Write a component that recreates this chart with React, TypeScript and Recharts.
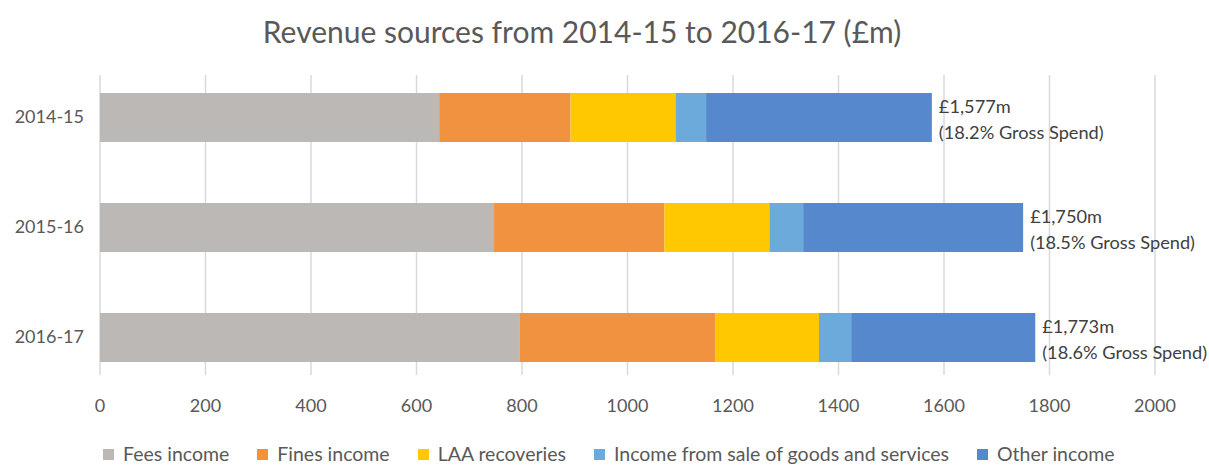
import { Bar, BarChart, CartesianGrid, LabelList, XAxis, YAxis } from "recharts"

const YEARS = ["2014-15", "2015-16", "2016-17"]
const FEES = [643, 747, 795]
const FINES = [249, 323, 372]
const LAA = [199, 199, 196]
const GOODS = [58, 64, 61]
const OTHER = [428, 417, 349]
const TOTALS = [1577, 1750, 1773]
const GROSS_PCT = [18.2, 18.5, 18.6]
const X_TICKS = [0, 200, 400, 600, 800, 1000, 1200, 1400, 1600, 1800, 2000]

const SERIES = [
  { key: "fees", name: "Fees income", values: FEES },
  { key: "fines", name: "Fines income", values: FINES },
  { key: "laa", name: "LAA recoveries", values: LAA },
  { key: "goods", name: "Income from sale of goods and services", values: GOODS },
  { key: "other", name: "Other income", values: OTHER },
]

const COLORS: Record<string, string> = {
  fees: "#BCB8B6",
  fines: "#F19241",
  laa: "#FFC800",
  goods: "#6BAADA",
  other: "#5688CE",
}

const data = YEARS.map((year, i) => {
  const row: Record<string, string | number> = { year }
  SERIES.forEach((s) => (row[s.key] = s.values[i]))
  return row
})

const FONT = "Lato, 'Open Sans', sans-serif"
const GREY = "#595959"

function TotalLabel(props: any) {
  const { x, y, width, height, index } = props
  const lx = Number(x) + Number(width) + 7
  const cy = Number(y) + Number(height) / 2
  return (
    <text fill="#404040" fontSize={18.2} fontFamily={FONT}>
      <tspan x={lx} y={cy - 5}>£{TOTALS[index].toLocaleString("en-GB")}m</tspan>
      <tspan x={lx} y={cy + 21}>({GROSS_PCT[index].toFixed(1)}% Gross Spend)</tspan>
    </text>
  )
}

export default function App() {
  return (
    <div
      style={{
        position: "absolute",
        left: 0,
        top: 0,
        width: 1209,
        height: 466,
        background: "#fff",
        fontFamily: FONT,
        overflow: "hidden",
      }}
    >
      <div
        style={{
          position: "absolute",
          top: 16,
          left: 0,
          width: 1164,
          textAlign: "center",
          fontSize: 30,
          lineHeight: "30px",
          color: GREY,
        }}
      >
        Revenue sources from 2014-15 to 2016-17 (£m)
      </div>
      <BarChart
        width={1209}
        height={466}
        data={data}
        layout="vertical"
        margin={{ top: 75, right: 54, bottom: 51, left: 0 }}
        style={{ position: "absolute", left: 0, top: 0 }}
      >
        <CartesianGrid horizontal={false} stroke="#D9D9D9" strokeWidth={1.5} />
        <XAxis
          type="number"
          domain={[0, 2000]}
          ticks={X_TICKS}
          interval={0}
          axisLine={false}
          tickLine={false}
          tickMargin={18}
          height={40}
          tick={{ fontSize: 18, fill: GREY, fontFamily: FONT }}
        />
        <YAxis
          type="category"
          dataKey="year"
          width={100}
          axisLine={false}
          tickLine={false}
          tickMargin={10}
          padding={{ top: -13, bottom: -17 }}
          tick={{ fontSize: 18, fill: GREY, fontFamily: FONT }}
        />
        {SERIES.map((s) => (
          <Bar
            key={s.key}
            dataKey={s.key}
            name={s.name}
            stackId="rev"
            fill={COLORS[s.key]}
            barSize={49}
            isAnimationActive={false}
          >
            {s.key === "other" && (
              <LabelList dataKey="other" content={TotalLabel} />
            )}
          </Bar>
        ))}
      </BarChart>
      <div
        style={{
          position: "absolute",
          top: 444,
          left: 103,
          display: "flex",
          gap: 28,
          fontSize: 19.5,
          lineHeight: "20px",
          color: GREY,
          whiteSpace: "nowrap",
        }}
      >
        {SERIES.map((s) => (
          <div key={s.key} style={{ display: "flex", alignItems: "center", gap: 9 }}>
            <span
              style={{ width: 11, height: 11, background: COLORS[s.key], display: "inline-block" }}
            />
            <span>{s.name}</span>
          </div>
        ))}
      </div>
    </div>
  )
}
